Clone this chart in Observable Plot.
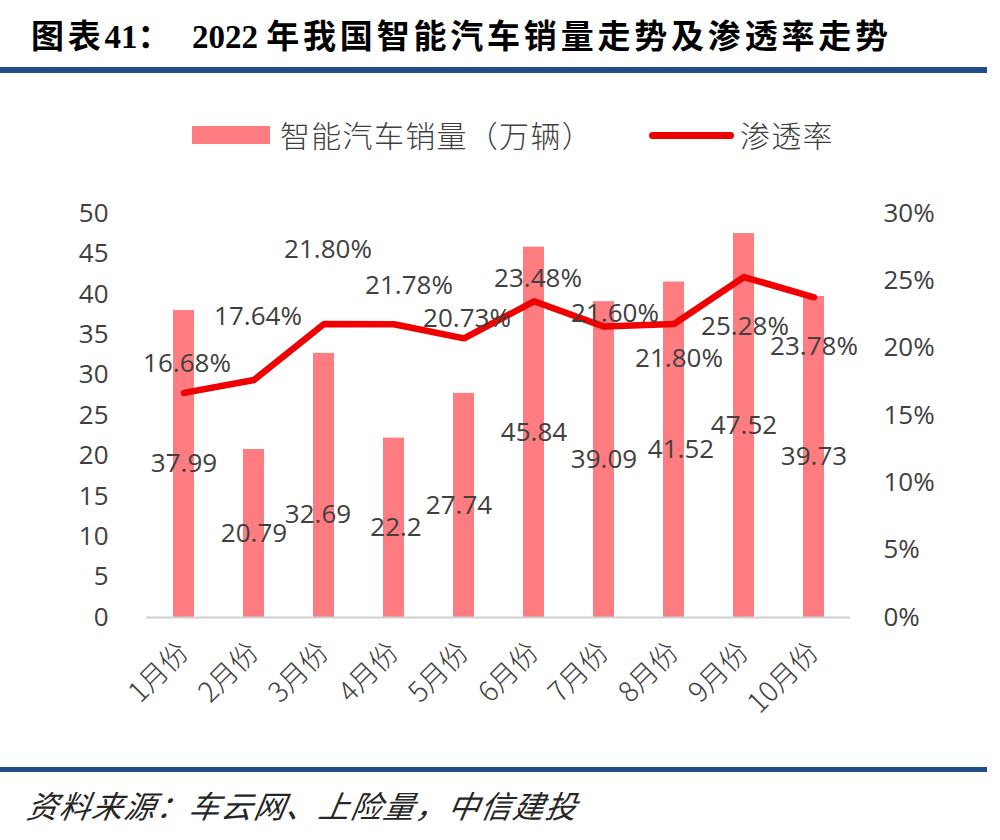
<!DOCTYPE html>
<html>
<head>
<meta charset="utf-8">
<script src="https://cdn.jsdelivr.net/npm/d3@7"></script>
<script src="https://cdn.jsdelivr.net/npm/@observablehq/plot@0.6"></script>
<style>
  html, body { margin: 0; padding: 0; background: #fff; }
  #wrap { position: relative; width: 1000px; height: 840px; background: #fff; overflow: hidden; }
  .abs { position: absolute; white-space: nowrap; }
  .title { font-family: "Liberation Serif", "Noto Sans CJK SC", serif; font-weight: bold; font-size: 33px; line-height: 33px; color: #000; top: 21px; }
  .title .cjk { letter-spacing: 3.8px; }
  .rule { background: #1f4e8a; left: 0; width: 987px; height: 6px; }
  .legtext { font-family: "Noto Sans CJK SC", sans-serif; font-weight: 300; font-size: 30px; line-height: 30px; color: #404040; top: 119px; letter-spacing: 1.3px; }
  .source { font-family: "Noto Sans CJK SC", sans-serif; font-style: italic; font-size: 31px; line-height: 31px; color: #262626; top: 789px; left: 28px; letter-spacing: 1.4px; transform-origin: left center; transform: skewX(-10deg); }
  #chart { position: absolute; left: 0; top: 170px; }
</style>
</head>
<body>
<div id="wrap">
  <div class="abs title" style="left:31px"><span class="cjk">图表</span>41<span class="cjk">：</span></div>
  <div class="abs title" style="left:192px">2022 <span class="cjk">年我国智能汽车销量走势及渗透率走势</span></div>
  <div class="abs rule" style="top:67px"></div>

  <div class="abs" style="left:192px; top:126px; width:78px; height:18px; background:#ff7c80"></div>
  <div class="abs legtext" style="left:280px">智能汽车销量（万辆）</div>
  <div class="abs" style="left:649px; top:132px; width:85px; height:7px; border-radius:4px; background:#ee0000"></div>
  <div class="abs legtext" style="left:740px">渗透率</div>

  <div id="chart"></div>

  <div class="abs rule" style="top:767px; height:5px"></div>
  <div class="abs source">资料来源：车云网、上险量，中信建投</div>
</div>
<script>
const months = ["1月份","2月份","3月份","4月份","5月份","6月份","7月份","8月份","9月份","10月份"];
const sales = [37.99, 20.79, 32.69, 22.2, 27.74, 45.84, 39.09, 41.52, 47.52, 39.73];
const penetration = [16.68, 17.64, 21.80, 21.78, 20.73, 23.48, 21.60, 21.80, 25.28, 23.78];
const leftTicks = [0, 5, 10, 15, 20, 25, 30, 35, 40, 45, 50];
const rightTicks = [0, 5, 10, 15, 20, 25, 30];

// label nudges in pixels [dx, dy] (visual placement of data labels)
const salesLabelNudge = [[0,0],[0,0],[-6,29],[2,0],[-5,0],[0,0],[0,0],[7,0],[0,0],[0,0]];
const pctLabelNudge = [[3,-29],[4,-63],[4,-74],[15,-39],[3,-20],[4,-23],[11,-13],[5,35],[1,50],[0,49]];

const yMax = 50, pMax = 30;
const toY = p => p * yMax / pMax;

const rows = months.map((m, i) => ({month: m, sales: sales[i], pct: penetration[i]}));

const numFont = "'Open Sans', 'Noto Sans', sans-serif";
const labelSize = 26;

const marks = [
  Plot.barY(rows, {x: "month", y: "sales", fill: "#ff7c80"}),
  Plot.ruleY([0], {stroke: "#d0d0d0", strokeWidth: 2}),
  Plot.axisY({anchor: "left", ticks: leftTicks, tickSize: 0, tickPadding: 38, fontSize: 26, fontFamily: numFont, label: null}),
  Plot.axisY({anchor: "right", ticks: rightTicks.map(toY), tickFormat: d => Math.round(d * pMax / yMax) + "%", tickSize: 0, tickPadding: 33, fontSize: 26, fontFamily: numFont, label: null}),
  Plot.axisX({tickRotate: -45, tickSize: 0, tickPadding: 30, fontSize: 28, fontFamily: "'Noto Sans CJK SC', sans-serif", fontWeight: 300, label: null}),
  Plot.line(rows, {x: "month", y: d => toY(d.pct), stroke: "#f00000", strokeWidth: 6.5, strokeLinejoin: "round", strokeLinecap: "round"}),
  ...rows.map((r, i) => Plot.text([r], {x: "month", y: d => d.sales / 2, text: d => String(d.sales), dx: salesLabelNudge[i][0], dy: salesLabelNudge[i][1], fontSize: labelSize, fontFamily: numFont, fill: "#404040"})),
  ...rows.map((r, i) => Plot.text([r], {x: "month", y: d => toY(d.pct), text: d => d.pct.toFixed(2) + "%", dx: pctLabelNudge[i][0], dy: pctLabelNudge[i][1], fontSize: labelSize, fontFamily: numFont, fill: "#404040"}))
];

const chart = Plot.plot({
  width: 1000,
  height: 570,
  marginTop: 43,
  marginBottom: 123,
  marginLeft: 146,
  marginRight: 150,
  style: {color: "#404040", background: "transparent", overflow: "visible"},
  x: {domain: months, paddingInner: 0.7, paddingOuter: 0.35, axis: null},
  y: {domain: [0, yMax], axis: null},
  marks
});
document.getElementById("chart").appendChild(chart);
</script>
</body>
</html>
